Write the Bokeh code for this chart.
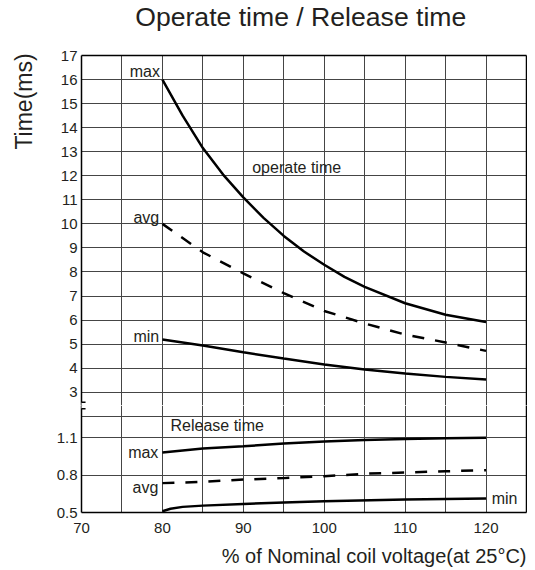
import math
from bokeh.plotting import figure
from bokeh.models import (Range1d, FixedTicker, Grid, LinearAxis, Label, BoxAnnotation)
from bokeh.layouts import column, row
from bokeh.embed import file_html
from bokeh.resources import INLINE

# ---------------- data ----------------
voltage_op_max = [80, 82.5, 85, 87.5, 90, 92.5, 95, 97.5, 100, 102.5, 105, 110, 115, 120]
op_max = [16.0, 14.5, 13.15, 12.05, 11.1, 10.25, 9.5, 8.85, 8.3, 7.8, 7.38, 6.7, 6.22, 5.92]
voltage = [80, 85, 90, 95, 100, 105, 110, 115, 120]
op_avg = [10.0, 8.82, 7.94, 7.12, 6.38, 5.86, 5.4, 5.07, 4.72]
op_min = [5.19, 4.94, 4.66, 4.4, 4.15, 3.95, 3.78, 3.64, 3.53]
rel_max = [0.98, 1.012, 1.03, 1.052, 1.068, 1.08, 1.088, 1.094, 1.098]
rel_avg = [0.735, 0.745, 0.764, 0.775, 0.79, 0.81, 0.82, 0.83, 0.838]
voltage_rel_min = [80, 81, 82.5, 85, 90, 95, 100, 110, 120]
rel_min = [0.51, 0.53, 0.545, 0.555, 0.568, 0.58, 0.59, 0.604, 0.612]

x_tick_values = [70, 80, 90, 100, 110, 120]
x_grid_values = [75, 80, 85, 90, 95, 100, 105, 110, 115, 120]
op_tick_values = list(range(3, 18))
op_grid_values = list(range(3, 17))
rel_tick_values = [0.5, 0.8, 1.1]
rel_grid_values = [0.8, 1.1, 1.27]

# ---------------- styling ----------------
FONT = "Liberation Sans"
TXT = "#231f20"
GRID = "#454545"
SIDE_W = 40
FW = 445
LB = 81 - SIDE_W
HEAD_H = 40
TOP_FH = 350
BOT_FH = 107
BOT_BORDER = 31
FOOT_H = 26
X0, X1 = 70, 125
TOP_Y0, TOP_Y1 = 2.45, 17.0
BOT_Y0, BOT_Y1 = 0.5, 1.356


def bare(width, height, xr, yr):
    p = figure(frame_width=width, frame_height=height, x_range=xr, y_range=yr,
               output_backend="svg", toolbar_location=None, x_axis_location=None,
               y_axis_location=None, title=None, min_border_left=0, min_border_right=0,
               min_border_top=0, min_border_bottom=0, outline_line_color=None)
    p.xgrid.visible = False
    p.ygrid.visible = False
    return p


def frame_axis(p, side):
    ax = LinearAxis(ticker=FixedTicker(ticks=[]), major_tick_out=0, major_tick_in=0,
                    minor_tick_out=0, minor_tick_in=0, major_label_standoff=0,
                    major_label_text_font_size="0px", axis_line_width=1.5,
                    axis_line_color="black")
    p.add_layout(ax, side)


def style_axis(ax, ticks, standoff):
    ax.ticker = FixedTicker(ticks=ticks)
    ax.major_tick_out = 0
    ax.major_tick_in = 0
    ax.minor_tick_out = 0
    ax.minor_tick_in = 0
    ax.axis_line_width = 1.5
    ax.axis_line_color = "black"
    ax.major_label_text_font = FONT
    ax.major_label_text_font_size = "15px"
    ax.major_label_text_color = TXT
    ax.major_label_standoff = standoff


def add_grids(p, yvals):
    p.add_layout(Grid(dimension=0, ticker=FixedTicker(ticks=x_grid_values),
                      grid_line_color=GRID, grid_line_width=1))
    p.add_layout(Grid(dimension=1, ticker=FixedTicker(ticks=yvals),
                      grid_line_color=GRID, grid_line_width=1))


def txt(p, x, y, s, align="left", size="16px", angle=0.0):
    p.add_layout(Label(x=x, y=y, text=s, text_align=align, text_baseline="middle",
                       angle=angle, text_font=FONT, text_font_size=size, text_color=TXT))


# ---------------- side strip with the y title ----------------
side = bare(SIDE_W, 160, Range1d(0, SIDE_W), Range1d(160, 0))
txt(side, 23, 101, "Time(ms)", align="center", size="23px", angle=math.pi / 2)

# ---------------- header with the title ----------------
head = figure(frame_width=FW, frame_height=HEAD_H, x_range=Range1d(X0, X1),
              y_range=Range1d(HEAD_H, 0), output_backend="svg", toolbar_location=None,
              x_axis_location=None, y_axis_location=None, title=None,
              min_border_left=LB, min_border_right=1, min_border_top=0, min_border_bottom=0,
              outline_line_color=None)
head.xgrid.visible = False
head.ygrid.visible = False
txt(head, 97.1, 16.5, "Operate time / Release time", align="center", size="26.6px")

# ---------------- top: operate time ----------------
top = figure(frame_width=FW, frame_height=TOP_FH, x_range=Range1d(X0, X1),
             y_range=Range1d(TOP_Y0, TOP_Y1), output_backend="svg", toolbar_location=None,
             x_axis_location=None, y_axis_location="left", title=None,
             min_border_left=LB, min_border_right=1, min_border_top=55 - HEAD_H,
             min_border_bottom=0, outline_line_color=None)
top.xgrid.visible = False
top.ygrid.visible = False
style_axis(top.yaxis[0], op_tick_values, 4)
frame_axis(top, "above")
frame_axis(top, "right")
add_grids(top, op_grid_values)

top.line(voltage_op_max, op_max, line_color="black", line_width=2.5)
top.line(voltage, op_avg, line_color="black", line_width=2.5, line_dash="12 11")
top.line(voltage, op_min, line_color="black", line_width=2.5)

txt(top, 79.7, 16.33, "max", align="right")
txt(top, 91.1, 12.34, "operate time")
txt(top, 79.6, 10.26, "avg", align="right")
txt(top, 79.6, 5.32, "min", align="right")

# break mark (top part)
top.add_layout(BoxAnnotation(left=69.8, right=70.2, bottom=TOP_Y0, top=TOP_Y0 + 3 / 24.05,
                             fill_color="white", fill_alpha=1, line_color=None))
top.add_layout(BoxAnnotation(left=69.5, right=70.5, bottom=TOP_Y0 + 2.5 / 24.05,
                             top=TOP_Y0 + 4 / 24.05,
                             fill_color="black", fill_alpha=1, line_color=None))

# ---------------- bottom: release time ----------------
bot = figure(frame_width=FW, frame_height=BOT_FH, x_range=Range1d(X0, X1),
             y_range=Range1d(BOT_Y0, BOT_Y1), output_backend="svg", toolbar_location=None,
             title=None, min_border_left=LB, min_border_right=1, min_border_top=0,
             min_border_bottom=BOT_BORDER, outline_line_color=None)
bot.xgrid.visible = False
bot.ygrid.visible = False
style_axis(bot.yaxis[0], rel_tick_values, 4)
style_axis(bot.xaxis[0], x_tick_values, 10)
frame_axis(bot, "right")
add_grids(bot, rel_grid_values)

bot.line(voltage, rel_max, line_color="black", line_width=2.5)
bot.line(voltage, rel_avg, line_color="black", line_width=2.5, line_dash="12 11")
bot.line(voltage_rel_min, rel_min, line_color="black", line_width=2.5)

txt(bot, 81.0, 1.196, "Release time")
txt(bot, 79.5, 0.98, "max", align="right")
txt(bot, 79.5, 0.70, "avg", align="right")
txt(bot, 120.7, 0.612, "min")

# break mark (bottom part)
bot.add_layout(BoxAnnotation(left=69.8, right=70.2, bottom=BOT_Y1 - 3 / 125, top=BOT_Y1,
                             fill_color="white", fill_alpha=1, line_color=None))
bot.add_layout(BoxAnnotation(left=69.5, right=70.5, bottom=BOT_Y1 - 4 / 125,
                             top=BOT_Y1 - 2.5 / 125,
                             fill_color="black", fill_alpha=1, line_color=None))

# ---------------- footer with the x title ----------------
foot = figure(frame_width=FW, frame_height=FOOT_H, x_range=Range1d(X0, X1),
              y_range=Range1d(FOOT_H, 0), output_backend="svg", toolbar_location=None,
              x_axis_location=None, y_axis_location=None, title=None,
              min_border_left=LB, min_border_right=1, min_border_top=0, min_border_bottom=0,
              outline_line_color=None)
foot.xgrid.visible = False
foot.ygrid.visible = False
txt(foot, X1, 12, "% of Nominal coil voltage(at 25°C)", align="right", size="20px")

layout = row(side, column(head, top, bot, foot, spacing=0), spacing=0)
open("out.html", "w").write(file_html(layout, INLINE))
